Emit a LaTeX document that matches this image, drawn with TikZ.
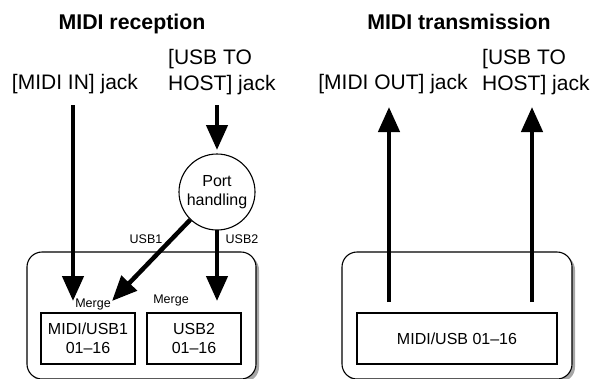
\documentclass[tikz,border=0pt]{standalone}
\usepackage{fontspec}
\setmainfont{Liberation Sans}
\usetikzlibrary{arrows.meta}
\tikzset{
  bigarrow/.style={line width=4.5pt,-{Triangle[length=25pt,width=21pt]}},
  outerbox/.style={draw=black,line width=1.1pt,rounded corners=15pt,fill=white},
  shadowbox/.style={fill=black!35,rounded corners=15pt},
  innerbox/.style={draw=black,line width=1.1pt,fill=white},
  lbl/.style={font=\fontsize{21}{26}\selectfont,inner sep=0pt},
  ttl/.style={font=\fontsize{21.3}{24}\selectfont\bfseries,inner sep=0pt},
  boxtxt/.style={font=\fontsize{16}{18.5}\selectfont,align=center,inner sep=0pt},
  small/.style={font=\fontsize{12.5}{14}\selectfont,inner sep=0pt},
}
\begin{document}
\begin{tikzpicture}[x=1pt,y=-1pt]
\useasboundingbox (0,0) rectangle (601,378);
\clip (0,0) rectangle (601,378);
% titles
\node[ttl,anchor=base] (t1) at (132,29) {MIDI reception};
\node[ttl,anchor=base] (t2) at (459,29) {MIDI transmission};
% jack labels
\node[lbl,anchor=base] (midiin) at (75,89) {[MIDI IN] jack};
\node[lbl,anchor=base west,align=left] (usbin) at (168,90) {[USB TO\\HOST] jack};
\node[lbl,anchor=base] (midiout) at (393,89) {[MIDI OUT] jack};
\node[lbl,anchor=base west,align=left] (usbout) at (482,90) {[USB TO\\HOST] jack};
% outer boxes
\fill[shadowbox] (30,255) rectangle (259,382);
\draw[outerbox] (27,252) rectangle (256,379);
\fill[shadowbox] (345,255) rectangle (575,382);
\draw[outerbox] (342,252) rectangle (572,379);
% inner boxes
\node[innerbox,boxtxt,minimum width=94pt,minimum height=51pt] (b1) at (88,338.5) {MIDI/USB1\\01--16};
\node[innerbox,boxtxt,minimum width=94pt,minimum height=51pt] (b2) at (194,338.5) {USB2\\01--16};
\node[innerbox,boxtxt,minimum width=200pt,minimum height=51pt] (b3) at (457,338.5) {MIDI/USB 01--16};
% port handling
\node[circle,draw=black,line width=1.1pt,minimum size=76pt,inner sep=0pt,boxtxt,fill=white] (port) at (217,192) {Port\\handling};
% coordinates
\coordinate (a1s) at (73,105);
\coordinate (a1e) at (73,301);
\coordinate (a2s) at (217,105);
\coordinate (a2e) at (217,150);
\coordinate (a3e) at (112,301);
\coordinate (a4s) at (217,230);
\coordinate (a4e) at (217,301);
\coordinate (a5s) at (389,302);
\coordinate (a5e) at (389,107);
\coordinate (a6s) at (532,302);
\coordinate (a6e) at (532,107);
% arrows
\draw[bigarrow] (a1s) -- (a1e);
\draw[bigarrow] (a2s) -- (a2e);
\draw[bigarrow] (port) -- (a3e);
\draw[bigarrow] (a4s) -- (a4e);
\draw[bigarrow] (a5s) -- (a5e);
\draw[bigarrow] (a6s) -- (a6e);
% small labels
\node[small,anchor=base] (usb1) at (146,243) {USB1};
\node[small,anchor=base] (usb2) at (242,243) {USB2};
\node[small,anchor=base] (m1) at (93,307) {Merge};
\node[small,anchor=base] (m2) at (171,303) {Merge};
\end{tikzpicture}
\end{document}
